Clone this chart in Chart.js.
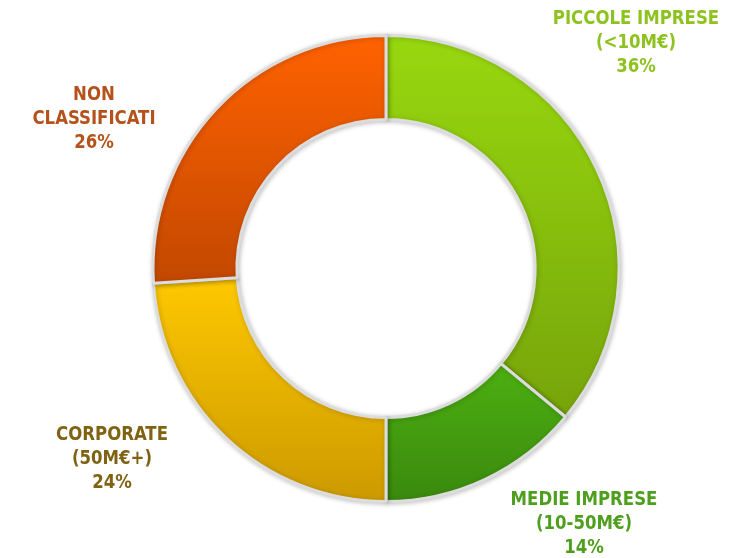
<!DOCTYPE html>
<html>
<head>
<meta charset="utf-8">
<script src="https://cdn.jsdelivr.net/npm/chart.js@4"></script>
<style>
    html, body { margin: 0; padding: 0; background: #fff; }
    #wrap { width: 733px; height: 558px; position: relative; }
</style>
</head>
<body>
<div id="wrap"><canvas id="segmentChart" width="733" height="558"></canvas></div>
<script>
// Data
const categories = ['PICCOLE IMPRESE', 'MEDIE IMPRESE', 'CORPORATE', 'NON CLASSIFICATI'];
const subLabels = [['PICCOLE IMPRESE', '(<10M€)'], ['MEDIE IMPRESE', '(10-50M€)'], ['CORPORATE', '(50M€+)'], ['NON', 'CLASSIFICATI']];
const shares = [36, 14, 24, 26];

// Styles
const gradientTop = ['#98d80f', '#4db011', '#fec800', '#ff6200'];
const gradientBottom = ['#76a40a', '#3a890e', '#cc9a00', '#c24800'];
const labelColors = ['#8dc21f', '#4e9f1d', '#7f6212', '#b5521c'];
// label anchor (center x, first line center y)
const labelAnchors = [[636, 19], [584, 500], [112, 435], [94, 95]];
const lineHeight = 24;
const labelFont = "bold 20px 'DejaVu Sans Condensed', 'DejaVu Sans', sans-serif";
const labelSquash = 0.92;

// Paint each slice with its own vertical gradient
const sliceGradient = {
    id: 'sliceGradient',
    beforeDatasetsDraw(chart) {
        const ctx = chart.ctx;
        chart.getDatasetMeta(0).data.forEach((arc, i) => {
            const { x, y, startAngle, endAngle, innerRadius, outerRadius } = arc.getProps(['x', 'y', 'startAngle', 'endAngle', 'innerRadius', 'outerRadius']);
            let minY = Infinity, maxY = -Infinity;
            for (let k = 0; k <= 60; k++) {
                const a = startAngle + (endAngle - startAngle) * k / 60;
                [innerRadius, outerRadius].forEach(r => {
                    const py = y + Math.sin(a) * r;
                    minY = Math.min(minY, py);
                    maxY = Math.max(maxY, py);
                });
            }
            const g = ctx.createLinearGradient(0, minY, 0, maxY);
            g.addColorStop(0, gradientTop[i]);
            g.addColorStop(1, gradientBottom[i]);
            arc.options.backgroundColor = g;
        });
        ctx.save();
        ctx.shadowColor = 'rgba(0, 0, 0, 0.22)';
        ctx.shadowBlur = 5;
        ctx.shadowOffsetX = 1;
        ctx.shadowOffsetY = 1;
    },
    afterDatasetsDraw(chart) {
        chart.ctx.restore();
        drawLabels(chart);
    }
};

function drawLabels(chart) {
    const ctx = chart.ctx;
    shares.forEach((v, i) => {
        const lines = subLabels[i].concat([v + '%']);
        const [cx, cy] = labelAnchors[i];
        ctx.save();
        ctx.translate(cx, cy);
        ctx.scale(labelSquash, 1);
        ctx.font = labelFont;
        ctx.textAlign = 'center';
        ctx.textBaseline = 'middle';
        ctx.fillStyle = labelColors[i];
        lines.forEach((t, k) => ctx.fillText(t, 0, k * lineHeight));
        ctx.restore();
    });
}

new Chart(document.getElementById('segmentChart').getContext('2d'), {
    type: 'doughnut',
    data: {
        labels: categories,
        datasets: [{
            data: shares,
            backgroundColor: gradientTop,
            borderColor: '#dcdcdc',
            borderWidth: 3
        }]
    },
    options: {
        responsive: false,
        animation: false,
        cutout: '64%',
        layout: { padding: { top: 34, bottom: 55, left: 151, right: 112 } },
        plugins: {
            legend: { display: false },
            tooltip: { enabled: false }
        }
    },
    plugins: [sliceGradient]
});
</script>
</body>
</html>
